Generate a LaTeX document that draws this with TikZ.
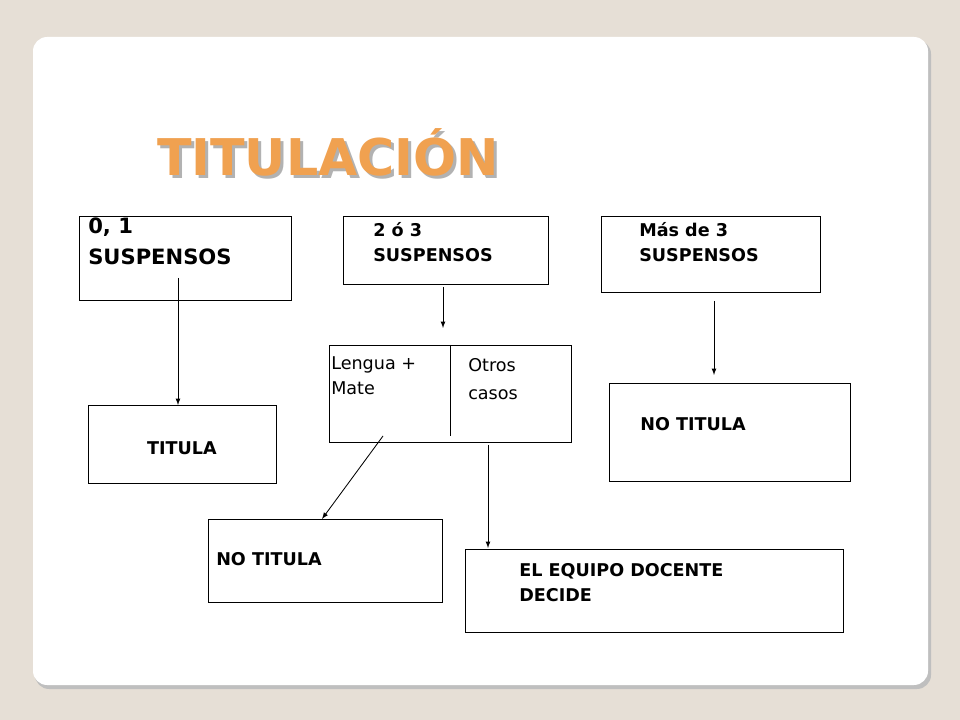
\documentclass[tikz,border=0pt]{standalone}
\usepackage{fontspec}
\setmainfont{DejaVu Sans}
\begin{document}
\begin{tikzpicture}[x=0.025cm,y=-0.025cm,
  box/.style={draw,line width=0.6pt},
  lbl/.style={anchor=north west,align=left,inner sep=0pt,font=\fontsize{12.5}{18}\bfseries\selectfont},
  arr/.style={-latex,line width=0.6pt}]
\definecolor{bg}{HTML}{E6DFD6}
\definecolor{ttl}{HTML}{F0A150}
\fill[bg] (0,0) rectangle (960,720);
\useasboundingbox (0,0) rectangle (960,720);
\fill[black!25,rounded corners=10] (35,40) rectangle (931,689);
\fill[white,rounded corners=10] (33,37) rectangle (928,685);
\node[text=black!30,font=\fontsize{36}{36}\bfseries\selectfont] at (331,155) {TITULACIÓN};
\node[text=ttl,font=\fontsize{36}{36}\bfseries\selectfont] (t) at (328,152) {TITULACIÓN};
\draw[box] (79,216) rectangle (291,300); \node[lbl,font=\fontsize{15}{22}\bfseries\selectfont] (a) at (88,218) {0, 1\\SUSPENSOS};
\draw[box] (343,216) rectangle (548,284); \node[lbl] (b) at (373,222) {2 ó 3\\SUSPENSOS};
\draw[box] (601,216) rectangle (820,292); \node[lbl] (c) at (639,222) {Más de 3\\SUSPENSOS};
\draw[box] (329,345) rectangle (571,442); \draw (450,345) -- (450,436);
\node[lbl,font=\fontsize{12.5}{18}\selectfont] (d1) at (331,356) {Lengua +\\Mate};
\node[lbl,font=\fontsize{12.5}{20}\selectfont] (d2) at (468,358) {Otros\\casos};
\draw[box] (609,383) rectangle (850,481); \node[lbl] (e) at (640,417) {NO TITULA};
\draw[box] (88,405) rectangle (276,483); \node[font=\fontsize{12.5}{18}\bfseries\selectfont] (f) at (182,448) {TITULA};
\draw[box] (208,519) rectangle (442,602); \node[lbl] (g) at (216,552) {NO TITULA};
\draw[box] (465,549) rectangle (843,632); \node[lbl] (h) at (519,563) {EL EQUIPO DOCENTE\\DECIDE};
\coordinate (s1) at (178,278); \coordinate (e1) at (178,405);
\coordinate (s2) at (443,287); \coordinate (e2) at (443,328);
\coordinate (s3) at (714,301); \coordinate (e3) at (714,375);
\coordinate (s4) at (383,436); \coordinate (e4) at (322,519);
\coordinate (s5) at (488,445); \coordinate (e5) at (488,548);
\draw[arr] (s1) -- (e1); \draw[arr] (s2) -- (e2); \draw[arr] (s3) -- (e3);
\draw[arr] (s4) -- (e4); \draw[arr] (s5) -- (e5);
\end{tikzpicture}
\end{document}
